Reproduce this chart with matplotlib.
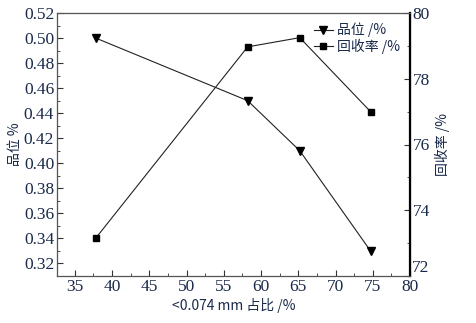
import matplotlib
matplotlib.use("Agg")
import matplotlib.pyplot as plt
from matplotlib.ticker import MultipleLocator, FuncFormatter

fine = [37.8, 58.2, 65.2, 74.7]
grade = [0.50, 0.45, 0.41, 0.33]
recovery = [73.15, 78.97, 79.25, 77.0]

plt.rcParams['font.family'] = ['Liberation Serif', 'Noto Sans CJK SC']
cjk = ['Noto Sans CJK SC', 'Liberation Serif']
txt = '#1a2a4a'

fig = plt.figure(figsize=(4.76, 3.23), dpi=100)
ax = fig.add_axes([57 / 476, 1 - 276 / 323, 353 / 476, 263 / 323])
ax2 = ax.twinx()

l1, = ax.plot(fine, grade, color='#222222', lw=0.8, marker='v', ms=6,
              mfc='black', mec='black', label='品位 /%')
l2, = ax2.plot(fine, recovery, color='#222222', lw=0.8, marker='s', ms=5,
               mfc='black', mec='black', label='回收率 /%')

ax.set_xlim(32.6, 80)
ax.set_ylim(0.31, 0.52)
ax2.set_ylim(72, 80)
ax.xaxis.set_major_locator(MultipleLocator(5))
ax.xaxis.set_minor_locator(MultipleLocator(2.5))
ax.yaxis.set_major_locator(MultipleLocator(0.02))
ax.yaxis.set_minor_locator(MultipleLocator(0.01))
ax2.yaxis.set_major_locator(MultipleLocator(2))
ax2.yaxis.set_minor_locator(MultipleLocator(1))
ax.yaxis.set_major_formatter(plt.FormatStrFormatter('%.2f'))
# bottom label "72" is drawn separately, lifted above the "80"
ax2.yaxis.set_major_formatter(FuncFormatter(lambda v, p: '' if v <= 72 else f'{v:.0f}'))

for a in (ax, ax2):
    a.tick_params(which='both', direction='in', labelsize=12.5, colors='#333333',
                  labelcolor=txt, pad=2)
    a.tick_params(which='major', length=4)
    a.tick_params(which='minor', length=2)
for s in ['top', 'left', 'bottom']:
    ax2.spines[s].set_color('#555555')
    ax2.spines[s].set_linewidth(0.8)
ax2.spines['right'].set_linewidth(1.6)
ax2.spines['right'].set_color('black')
ax2.text(1.004, 0.0, '72', transform=ax2.transAxes, fontsize=12.5, color=txt,
         ha='left', va='bottom')

ax.set_xlabel('<0.074 mm 占比 /%', family=cjk, fontsize=10, color=txt, labelpad=2)
ax.set_ylabel('品位 %', family=cjk, fontsize=10, color=txt, labelpad=1)
ax2.set_ylabel('回收率 /%', family=cjk, fontsize=10, color=txt, labelpad=3)

ax2.legend([l1, l2], ['品位 /%', '回收率 /%'], loc='upper right', frameon=False,
           prop={'family': cjk, 'size': 10}, handlelength=1.4, handletextpad=0.3,
           labelspacing=0.1, borderaxespad=0.3, labelcolor=txt)

fig.savefig('out.png', dpi=100)
